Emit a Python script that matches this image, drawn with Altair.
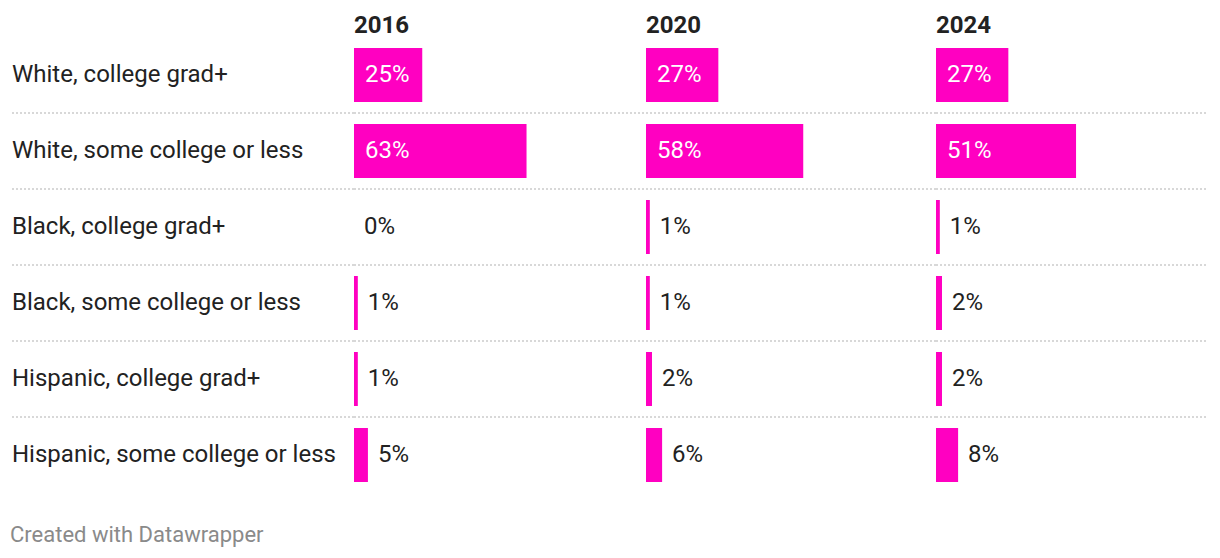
import altair as alt
import pandas as pd

groups = [
    "White, college grad+",
    "White, some college or less",
    "Black, college grad+",
    "Black, some college or less",
    "Hispanic, college grad+",
    "Hispanic, some college or less",
]
years = ["2016", "2020", "2024"]
share_2016 = [25.0, 63.2, 0.0, 1.4, 1.4, 5.1]
share_2020 = [26.5, 57.6, 1.4, 1.4, 2.2, 5.9]
share_2024 = [26.5, 51.3, 1.4, 2.2, 2.2, 8.1]
shares = {"2016": share_2016, "2020": share_2020, "2024": share_2024}

BAR = "#ff00c1"
TEXT = "#222222"
FONT = "Roboto"
FS = 24
H = 540
Y_RANGE = [29, 485]

yscale = alt.Scale(domain=groups, range=Y_RANGE, paddingInner=0.289, paddingOuter=0.1447)
xscale = alt.Scale(domain=[0, 100], range=[0, 273])


def separators(width, x0=0):
    df = pd.DataFrame({"group": groups[1:]})
    return alt.Chart(df).mark_rule(
        color="#cccccc", strokeWidth=1.5, strokeDash=[2, 2], yOffset=-11
    ).encode(
        y=alt.Y("group:N", scale=yscale, axis=None, bandPosition=0),
        x=alt.value(x0),
        x2=alt.value(width),
    )


# label panel
lab_df = pd.DataFrame({"group": groups})
lab_w = 346
labels = alt.Chart(lab_df).mark_text(
    align="left", baseline="middle", font=FONT, fontSize=FS, color=TEXT
).encode(
    y=alt.Y("group:N", scale=yscale, axis=None),
    x=alt.value(4),
    text="group:N",
)
footer = alt.Chart(pd.DataFrame({"t": ["Created with Datawrapper"]})).mark_text(
    align="left", baseline="middle", font=FONT, fontSize=22, color="#8a8a8a"
).encode(x=alt.value(2), y=alt.value(527), text="t:N")
label_panel = alt.layer(separators(lab_w, 4), labels, footer).properties(
    width=lab_w, height=H
)

widths = {"2016": 292, "2020": 290, "2024": 272}
panels = []
for yr in years:
    df = pd.DataFrame({"group": groups, "share": shares[yr], "year": yr})
    base = alt.Chart(df).transform_calculate(
        label="format(datum.share, '.0f') + '%'", zero="0"
    )
    bars = base.mark_bar(color=BAR).encode(
        y=alt.Y("group:N", scale=yscale, axis=None),
        x=alt.X("share:Q", scale=xscale, axis=None),
        x2=alt.datum(0),
    )
    inside = base.transform_filter("datum.share >= 15").mark_text(
        align="left", baseline="middle", font=FONT, fontSize=FS, color="white", dx=11
    ).encode(
        y=alt.Y("group:N", scale=yscale, axis=None),
        x=alt.X("zero:Q", scale=xscale, axis=None),
        text="label:N",
    )
    outside = base.transform_filter("datum.share < 15").mark_text(
        align="left", baseline="middle", font=FONT, fontSize=FS, color=TEXT, dx=10
    ).encode(
        y=alt.Y("group:N", scale=yscale, axis=None),
        x=alt.X("share:Q", scale=xscale, axis=None),
        text="label:N",
    )
    header = alt.Chart(pd.DataFrame({"t": [yr]})).mark_text(
        align="left", baseline="middle", font=FONT, fontSize=FS, fontWeight="bold", color=TEXT
    ).encode(x=alt.value(0), y=alt.value(18), text="t:N")
    panels.append(
        alt.layer(separators(widths[yr]), bars, inside, outside, header).properties(
            width=widths[yr], height=H
        )
    )

chart = alt.hconcat(label_panel, *panels, spacing=0, bounds="flush").properties(
    padding=0
).configure_view(stroke=None).configure_concat(spacing=0)

chart.save("out.html", embed_options={"renderer": "svg", "actions": False})
